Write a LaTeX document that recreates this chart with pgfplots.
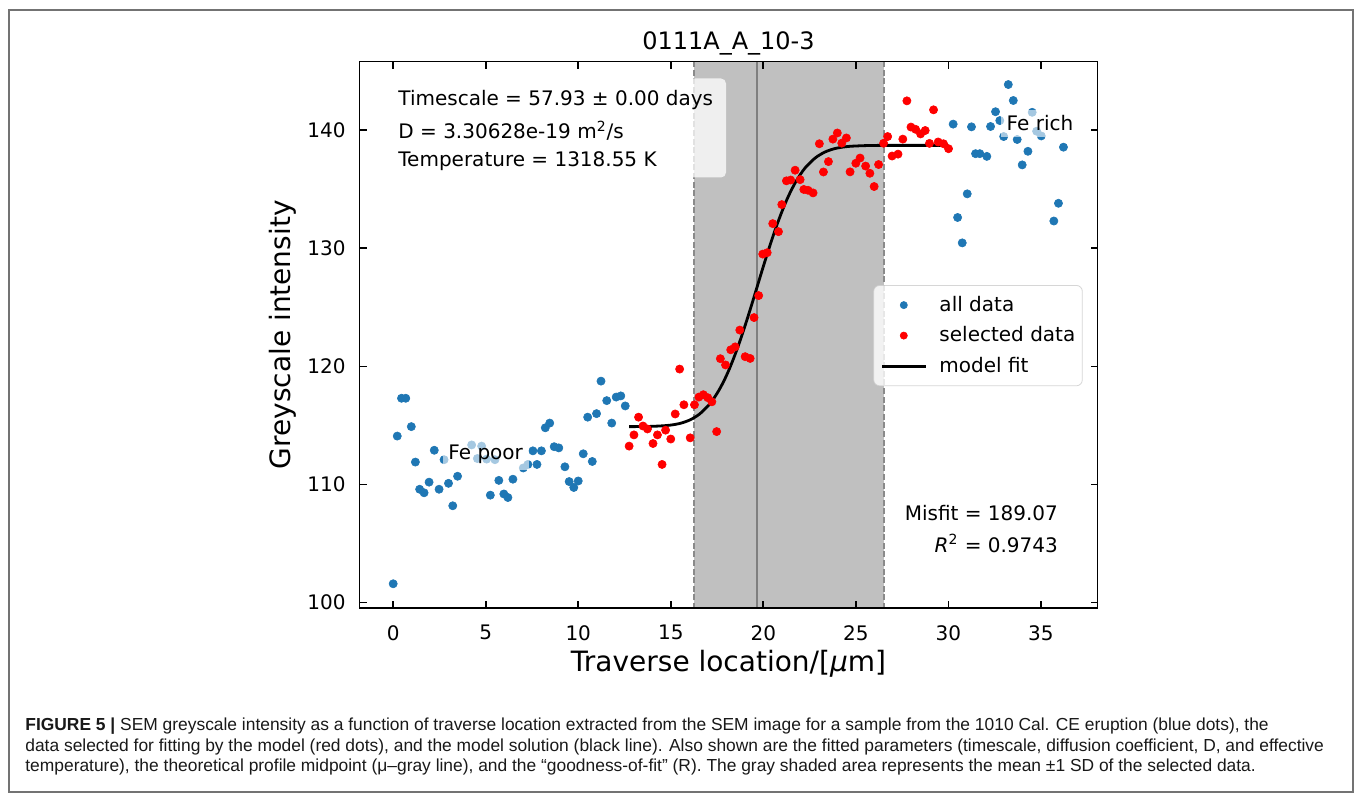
\documentclass[border=0pt]{standalone}
\usepackage{fontspec}
\setmainfont{DejaVu Sans}
\newfontfamily\capfont{Liberation Sans}
\usepackage{pgfplots}
\usepackage{pgfplotstable}
\pgfplotsset{compat=1.18}

\definecolor{mplblue}{HTML}{1F77B4}
\definecolor{mplred}{HTML}{FF0000}
\definecolor{bandgray}{HTML}{C0C0C0}
\definecolor{edgegray}{HTML}{8A8A8A}
\definecolor{midgray}{HTML}{7F7F7F}

% unselected points, Fe-poor side
\pgfplotstableread{
x y
0.00 101.6
0.22 114.1
0.45 117.3
0.68 117.3
0.98 114.9
1.20 111.9
1.43 109.6
1.67 109.3
1.94 110.2
2.22 112.9
2.48 109.6
2.75 112.1
2.99 110.1
3.22 108.2
3.48 110.7
4.24 113.35
4.55 112.2
4.78 113.25
5.05 112.15
5.25 109.1
5.50 112.1
5.71 110.35
5.98 109.2
6.20 108.9
6.47 110.45
7.03 111.4
7.28 111.7
7.55 112.85
7.77 111.7
8.01 112.85
8.22 114.8
8.46 115.2
8.70 113.2
8.95 113.1
9.28 111.5
9.51 110.25
9.76 109.75
10.00 110.3
10.27 112.6
10.51 115.7
10.76 111.95
10.99 116.0
11.23 118.75
11.54 117.1
11.81 115.2
12.05 117.4
12.30 117.5
12.54 116.65
}\poordata

% unselected points, Fe-rich side
\pgfplotstableread{
x y
30.26 140.5
30.50 132.6
30.75 130.45
31.02 134.6
31.25 140.27
31.47 138.0
31.70 138.0
32.08 137.77
32.28 140.3
32.55 141.55
32.78 140.8
32.99 139.45
33.24 143.85
33.51 142.5
33.72 139.2
33.99 137.05
34.30 138.2
34.53 141.5
34.77 139.9
35.02 139.5
35.70 132.3
35.95 133.8
36.22 138.55
}\richdata

% selected points
\pgfplotstableread{
x y
12.75 113.25
13.01 114.20
13.26 115.70
13.50 114.95
13.74 114.70
14.04 113.47
14.28 114.20
14.53 111.70
14.72 114.60
15.00 113.85
15.24 115.97
15.48 119.77
15.71 116.75
16.05 113.95
16.28 116.75
16.52 117.40
16.76 117.60
17.00 117.35
17.22 117.00
17.48 114.48
17.68 120.65
17.96 120.12
18.24 121.40
18.48 121.65
18.73 123.07
19.02 120.82
19.29 120.67
19.50 124.13
19.75 125.99
19.97 129.50
20.21 129.62
20.51 132.08
20.82 131.40
21.00 133.69
21.25 135.70
21.48 135.77
21.72 136.60
21.99 135.80
22.19 134.97
22.42 134.90
22.69 134.68
23.03 138.84
23.25 136.45
23.52 137.33
23.76 139.23
24.00 139.75
24.24 138.89
24.49 139.33
24.69 136.46
25.00 137.19
25.23 137.63
25.53 136.95
25.76 136.34
25.99 135.22
26.23 137.08
26.50 138.88
26.72 139.45
26.96 137.80
27.28 137.96
27.54 139.23
27.76 142.47
27.98 140.25
28.23 140.06
28.50 139.67
28.75 139.96
28.98 138.87
29.20 141.71
29.45 138.99
29.74 138.84
30.01 138.42
}\seldata

% model solution
\pgfplotstableread{
x y
12.75 114.90
13.70 114.91
14.48 114.96
15.00 115.03
15.52 115.18
16.04 115.47
16.56 115.97
17.08 116.77
17.34 117.32
17.60 117.97
17.86 118.73
18.12 119.61
18.38 120.61
18.64 121.70
18.90 122.89
19.16 124.15
19.42 125.46
19.68 126.80
19.94 128.14
20.20 129.45
20.46 130.71
20.72 131.90
20.98 132.99
21.24 133.99
21.50 134.87
21.76 135.63
22.02 136.28
22.28 136.83
22.80 137.63
23.32 138.13
23.84 138.42
24.36 138.57
24.88 138.64
26.18 138.70
30.00 138.70
}\fitdata

\begin{document}
\begin{tikzpicture}[x=0.5pt,y=0.5pt]
\useasboundingbox (0,0) rectangle (1357,794);
\fill[white] (0,0) rectangle (1357,794);
\draw[black!55,line width=0.8pt] (9,2) rectangle (1353,784);

\begin{axis}[
  at={(179.75pt,93pt)}, anchor=south west,
  scale only axis, width=369pt, height=273.25pt,
  xmin=-1.82, xmax=38.06, ymin=99.55, ymax=145.8,
  xtick={0,5,...,35}, ytick={100,110,...,140},
  tick pos=both, tick align=inside,
  major tick length=3.5pt,
  every tick/.style={black, line width=0.8pt},
  axis line style={line width=0.8pt},
  axis on top,
  /pgf/number format/assume math mode=true,
  xticklabel style={font=\fontsize{10}{12}\selectfont, inner sep=0pt, anchor=north, yshift=-8.5pt},
  yticklabel style={font=\fontsize{10}{12}\selectfont, inner sep=0pt, anchor=east, xshift=-6.75pt},
  pts/.style={only marks, mark=*, mark size=2.05pt, line width=0.3pt},
  legend cell align=left,
  legend image code/.code={\draw[mark repeat=2,mark phase=2,#1] plot coordinates {(0pt,0pt) (10.85pt,0pt) (21.7pt,0pt)};},
  legend image post style={mark size=1.8pt, fill opacity=1, draw opacity=1},
  legend style={
    at={(axis description cs:0.6962,0.591)}, anchor=north west,
    draw=black!20, fill=white, fill opacity=0.8, draw opacity=0.8, text opacity=1,
    rounded corners=3pt, inner xsep=3.5pt, inner ysep=5.3pt, row sep=6.15pt,
    font=\fontsize{10}{12}\selectfont,
    nodes={inner sep=0pt},
    /tikz/every odd column/.append style={column sep=6.3pt}
  },
]
\addplot[fill=bandgray, draw=none, forget plot] coordinates {(16.27,90) (26.5,90) (26.5,150) (16.27,150)} -- cycle;
\addplot[edgegray, line width=1pt, dash pattern=on 3pt off 1.3pt, forget plot] coordinates {(16.27,90) (16.27,150)};
\addplot[edgegray, line width=1pt, dash pattern=on 3pt off 1.3pt, forget plot] coordinates {(26.5,90) (26.5,150)};
\addplot[midgray, line width=1.1pt, forget plot] coordinates {(19.68,90) (19.68,150)};

\addplot[pts, color=mplblue] table {\poordata};
\addlegendentry{all data}
\addplot[pts, color=mplblue, forget plot] table {\richdata};
\addplot[pts, color=mplred] table {\seldata};
\addlegendentry{selected data}
\addplot[black, line width=1.4pt, smooth] table {\fitdata};
\addlegendentry{model fit}
\end{axis}

% fitted parameters
\fill[white, opacity=0.75, rounded corners=2.5pt] (391,715.5) rectangle (726,616.5);
\begin{scope}[font=\fontsize{10}{12}\selectfont]
\node[anchor=base west, inner sep=0pt] at (398,688) {Timescale = 57.93 ± 0.00 days};
\node[anchor=base west, inner sep=0pt] at (398,655) {D = 3.30628e-19 m\textsuperscript{2}/s};
\node[anchor=base west, inner sep=0pt] at (398,627) {Temperature = 1318.55 K};
\node[anchor=base east, inner sep=0pt] at (1058.3,273.3) {Misfit = 189.07};
\node[anchor=base east, inner sep=0pt] at (1058.3,242) {{\itshape R}\textsuperscript{2} = 0.9743};
\node[anchor=base, fill=white, fill opacity=0.6, text opacity=1, inner sep=2.8pt] at (485.7,334) {Fe poor};
\node[anchor=base, fill=white, fill opacity=0.6, text opacity=1, inner sep=2.8pt] at (1040,663) {Fe rich};
\end{scope}

% title and axis labels
\node[anchor=base, inner sep=0pt, font=\fontsize{12}{14}\selectfont] at (728.5,744) {0111A\_A\_10-3};
\node[anchor=base, inner sep=0pt, font=\fontsize{14}{17}\selectfont] at (728.5,122.3) {Traverse location/[{\itshape μ}m]};
\node[anchor=base, inner sep=0pt, rotate=90, font=\fontsize{14}{17}\selectfont] at (290.7,459.25) {Greyscale intensity};

% caption
\begin{scope}[font=\capfont\fontsize{8.7}{10.3}\selectfont, color=black!90]
\node[anchor=base west, inner sep=0pt] at (25,63.3) {\textbf{FIGURE 5 |} SEM greyscale intensity as a function of traverse location extracted from the SEM image for a sample from the 1010 Cal. CE eruption (blue dots), the};
\node[anchor=base west, inner sep=0pt] at (25,42.3) {data selected for fitting by the model (red dots), and the model solution (black line). Also shown are the fitted parameters (timescale, diffusion coefficient, D, and effective};
\node[anchor=base west, inner sep=0pt] at (25,22.3) {temperature), the theoretical profile midpoint (μ–gray line), and the “goodness-of-fit” (R). The gray shaded area represents the mean ±1 SD of the selected data.};
\end{scope}
\end{tikzpicture}
\end{document}
